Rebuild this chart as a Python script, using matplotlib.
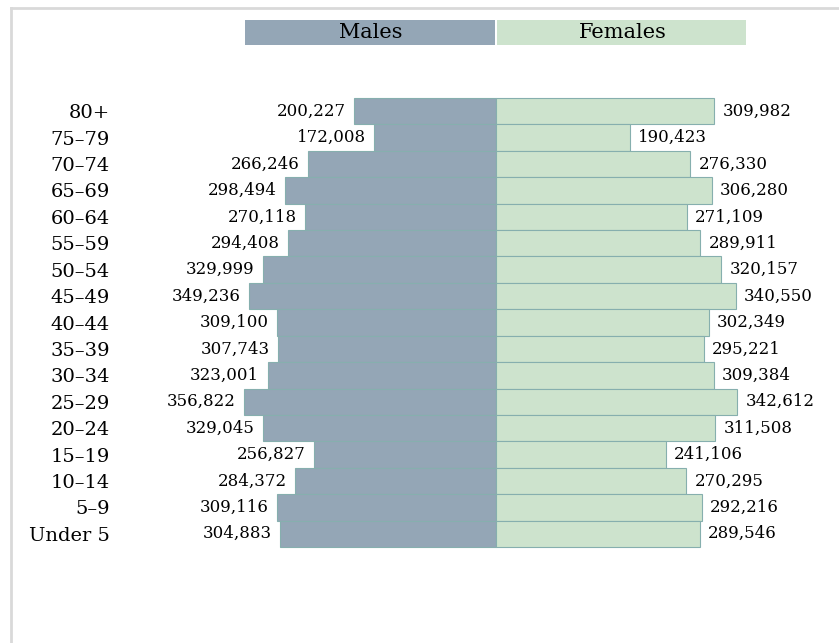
import matplotlib.pyplot as plt
import matplotlib as mpl
from matplotlib.patches import Rectangle
from matplotlib.lines import Line2D
import numpy as np

# age groups, top of the pyramid first
ages = ["80+", "75\u201379", "70\u201374", "65\u201369", "60\u201364", "55\u201359", "50\u201354",
        "45\u201349", "40\u201344", "35\u201339", "30\u201334", "25\u201329", "20\u201324",
        "15\u201319", "10\u201314", "5\u20139", "Under 5"]
males = [200227, 172008, 266246, 298494, 270118, 294408, 329999, 349236, 309100,
         307743, 323001, 356822, 329045, 256827, 284372, 309116, 304883]
females = [309982, 190423, 276330, 306280, 271109, 289911, 320157, 340550, 302349,
           295221, 309384, 342612, 311508, 241106, 270295, 292216, 289546]
headers = ["Males", "Females"]

male_color = "#94a6b6"
female_color = "#cde3cd"
edge_color = "#86afae"
serif = "DejaVu Serif"

W, H = 839, 643
fig = plt.figure(figsize=(W / 100, H / 100), dpi=100)

# axes placed in pixel terms
ax_l, ax_r, ax_t, ax_b = 245, 746, 98, 547
ax = fig.add_axes([ax_l / W, 1 - ax_b / H, (ax_r - ax_l) / W, (ax_b - ax_t) / H])

y = np.arange(len(ages))[::-1]
mbars = ax.barh(y, [-v for v in males], height=1.0, color=male_color,
                edgecolor=edge_color, linewidth=0.8, clip_on=False)
fbars = ax.barh(y, females, height=1.0, color=female_color,
                edgecolor=edge_color, linewidth=0.8, clip_on=False)

mlabels = ax.bar_label(mbars, labels=[f"{v:,}" for v in males], padding=6,
                       fontsize=12, family=serif)
flabels = ax.bar_label(fbars, labels=[f"{v:,}" for v in females], padding=6,
                       fontsize=12, family=serif)
for t in mlabels + flabels:
    t.set_annotation_clip(False)

ax.set_xlim(-355000, 355000)
ax.set_ylim(-0.5, len(ages) - 0.5)
ax.set_xticks([])
ax.set_yticks(y)
ax.set_yticklabels(ages, fontsize=14, family=serif)
ax.tick_params(axis="y", length=0, pad=(ax_l - 110) * 0.72)
for s in ax.spines.values():
    s.set_visible(False)

# header boxes
hdr_t, hdr_b = 20, 45
fig.add_artist(Rectangle((ax_l / W, 1 - hdr_b / H), (495 - ax_l) / W, (hdr_b - hdr_t) / H,
                         transform=fig.transFigure, color=male_color, lw=0))
fig.add_artist(Rectangle((497 / W, 1 - hdr_b / H), (ax_r - 497) / W, (hdr_b - hdr_t) / H,
                         transform=fig.transFigure, color=female_color, lw=0))
fig.text(371 / W, 1 - 33 / H, headers[0], ha="center", va="center",
         fontsize=15, family=serif)
fig.text(623 / W, 1 - 33 / H, headers[1], ha="center", va="center",
         fontsize=15, family=serif)

# light frame round the chart
frame = "#d9d9d9"
fig.add_artist(Line2D([11 / W, 11 / W], [0, 1 - 8 / H], transform=fig.transFigure,
                      color=frame, lw=2))
fig.add_artist(Line2D([11 / W, 1], [1 - 8 / H, 1 - 8 / H], transform=fig.transFigure,
                      color=frame, lw=2))

fig.savefig("out.png", dpi=100)
